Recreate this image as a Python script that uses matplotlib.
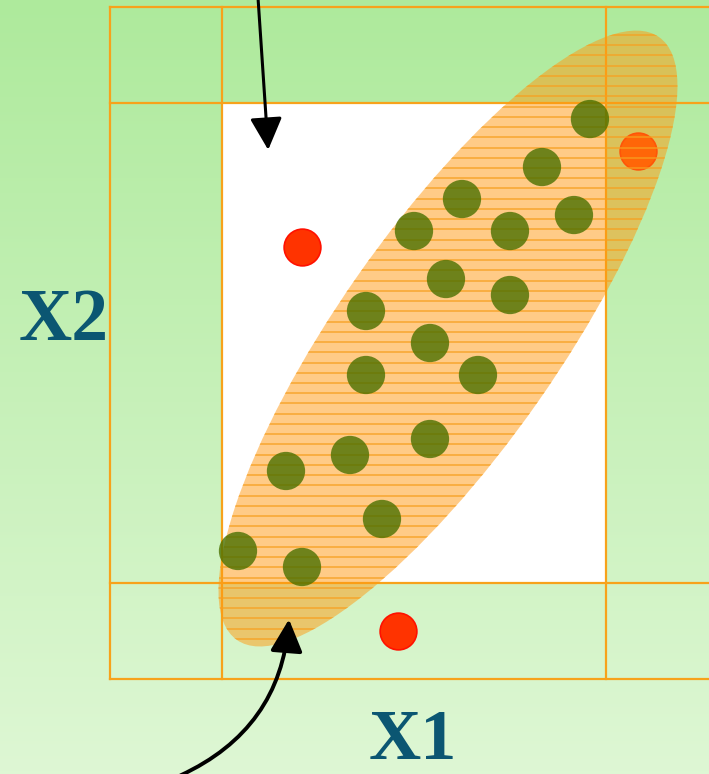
import matplotlib.pyplot as plt
import numpy as np
from matplotlib.patches import Ellipse, Rectangle, FancyArrowPatch

# data (grid units, origin at lower-left corner of the white box)
green_x = [23, 20, 22, 15, 12, 18, 14, 18, 9, 13, 9, 16, 8, 13, 4, 10, 1, 5]
green_y = [29, 26, 23, 24, 22, 22, 19, 18, 17, 15, 13, 13, 8, 9, 7, 4, 2, 1]
red_x = [5, 26, 11]
red_y = [21, 27, -3]

box_x = [0, 24]
box_y = [0, 30]
outer_x = [-7, 30.5]
outer_y = [-6, 36]

ell_center = (14.125, 15.28)
ell_width = 46.0
ell_height = 13.75
ell_angle = 55

fig = plt.figure(figsize=(7.09, 7.74), dpi=100)
ax = fig.add_axes([0, 0, 1, 1])
xmin, xmax = -13.875, 30.44
ymin, ymax = -11.94, 36.44
ax.set_xlim(xmin, xmax)
ax.set_ylim(ymin, ymax)
ax.axis('off')

# background gradient
top = np.array([174, 234, 156]) / 255.0
bot = np.array([222, 247, 212]) / 255.0
t = np.linspace(0, 1, 256)[:, None]
grad = top * (1 - t) + bot * t
ax.imshow(grad[:, None, :], extent=[xmin, xmax, ymin, ymax], aspect='auto', zorder=0)

# white box
ax.add_patch(Rectangle((box_x[0], box_y[0]), box_x[1] - box_x[0], box_y[1] - box_y[0],
                       facecolor='white', edgecolor='none', zorder=1))

# grid lines
gcol = '#f7a21b'
for x in [outer_x[0], box_x[0], box_x[1]]:
    ax.plot([x, x], [outer_y[0], outer_y[1]], color=gcol, lw=1.6, zorder=2)
for y in [outer_y[0], box_y[0], box_y[1], outer_y[1]]:
    ax.plot([outer_x[0], outer_x[1]], [y, y], color=gcol, lw=1.6, zorder=2)

# red points (under ellipse)
ax.scatter(red_x, red_y, s=700, color='#ff3300', edgecolors='#ff1100', linewidths=1.2, zorder=3)

# ellipse
ell = Ellipse(ell_center, ell_width, ell_height, angle=ell_angle,
              facecolor='#ff9911', alpha=0.5, edgecolor='none', zorder=4)
ax.add_patch(ell)

# hatch lines clipped to ellipse
clip = Ellipse(ell_center, ell_width, ell_height, angle=ell_angle,
               facecolor='none', edgecolor='none')
ax.add_patch(clip)
for y in np.arange(-3.5, 37, 0.64):
    ln, = ax.plot([-5, 30], [y, y], color='#f7a020', lw=1.1, alpha=0.85, zorder=5)
    ln.set_clip_path(clip)

# green points (slightly see-through, hatch shows faintly)
ax.scatter(green_x, green_y, s=760, color='#4a7000', alpha=0.8, edgecolors='none', zorder=6)

# arrows
ax.add_patch(FancyArrowPatch((2.25, 36.6), (2.9, 26.9), arrowstyle='-|>,head_length=9,head_width=4.5',
                             mutation_scale=2.2, color='black', lw=2.2, zorder=7))
ax.add_patch(FancyArrowPatch((-2.75, -12.1), (4.2, -2.1), connectionstyle='arc3,rad=0.3',
                             arrowstyle='-|>,head_length=9,head_width=4.5',
                             mutation_scale=2.2, color='black', lw=2.8, zorder=7))

# labels
tcol = '#0b5672'
ax.text(-9.9, 16.3, 'X2', fontsize=53, fontweight='bold', family='Liberation Serif',
        color=tcol, ha='center', va='center', zorder=8)
ax.text(11.94, -9.9, 'X1', fontsize=52, fontweight='bold', family='Liberation Serif',
        color=tcol, ha='center', va='center', zorder=8)

fig.savefig('out.png', dpi=100)
